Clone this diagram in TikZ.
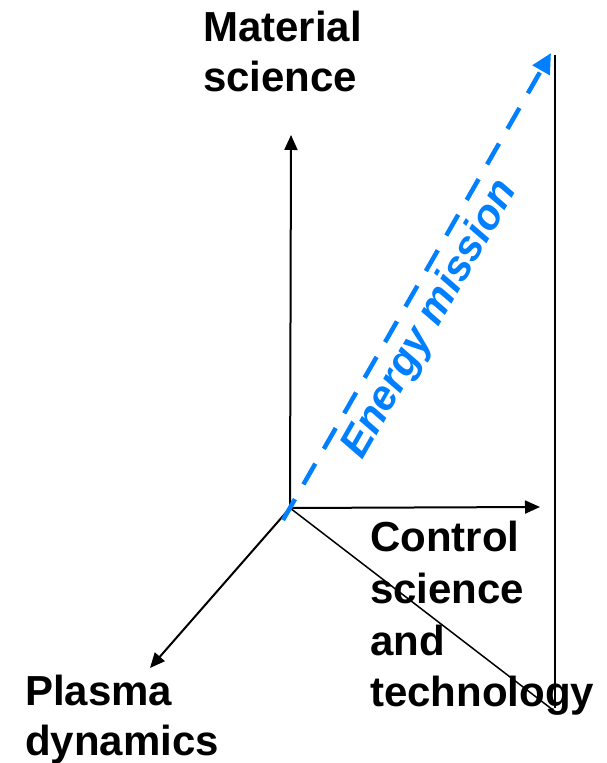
\documentclass[tikz,border=0pt]{standalone}
\usepackage{fontspec}
\setmainfont{Liberation Sans}
\usetikzlibrary{arrows.meta}
\definecolor{mblue}{RGB}{0,128,255}
\begin{document}
\begin{tikzpicture}[x=1pt,y=1pt,
  axis/.style={line width=2pt,-{Triangle[length=15pt,width=13pt]}},
  lbl/.style={inner sep=0pt,anchor=base west,align=left,font=\fontsize{42}{52}\selectfont\bfseries},
  mission/.style={mblue,line width=4.5pt,dash pattern=on 24pt off 17pt,-{Triangle[length=20pt,width=19pt]}}]
\useasboundingbox (0,0) rectangle (607,763);
\coordinate (o) at (290,255);
\coordinate (up) at (291,628);
\coordinate (right) at (540,256);
\coordinate (down) at (150,95);
\coordinate (corner) at (553,53);
\coordinate (top) at (555,708);
\coordinate (bot) at (555,55);
\coordinate (ms) at (283,243);
\coordinate (me) at (551,710);
\draw[axis] (o) -- (up);
\draw[axis] (o) -- (right);
\draw[axis] (o) -- (down);
\draw[line width=1.5pt] (o) -- (corner);
\draw[line width=2pt] (top) -- (bot);
\draw[mission] (ms) -- (me);
\node[lbl,font=\fontsize{42}{50}\selectfont\bfseries] (mat) at (203,671) {Material\\science};
\node[lbl] (ctl) at (370,56) {Control\\science\\and\\technology};
\node[lbl,font=\fontsize{42}{50}\selectfont\bfseries] (pla) at (25,8) {Plasma\\dynamics};
\node[inner sep=0pt,anchor=base west,rotate=60.15,text=mblue,font=\fontsize{42}{50}\selectfont\bfseries\itshape] (en) at (362,302) {Energy mission};
\end{tikzpicture}
\end{document}
